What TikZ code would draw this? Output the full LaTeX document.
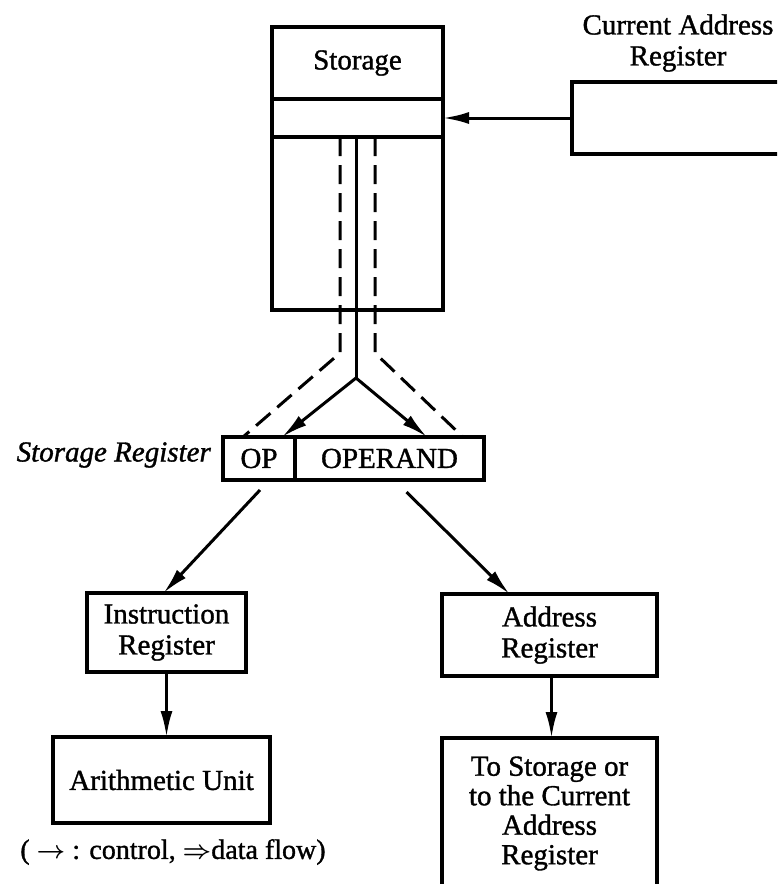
\documentclass[tikz,border=0pt]{standalone}
\usepackage{fontspec}
\setmainfont{Liberation Serif}[RawFeature={embolden=1.2}]
\usetikzlibrary{arrows.meta,calc}

\begin{document}
\begin{tikzpicture}[x=1pt,y=-1pt,
  txt/.style={font=\fontsize{29}{31}\selectfont, align=center, inner sep=0pt},
  box/.style={txt, draw, line width=3.2pt, rectangle, outer sep=0pt},
  ctrl/.style={line width=3pt, -{Latex[length=26pt,width=12pt]}},
  dflow/.style={line width=3pt, dash pattern=on 19pt off 9pt},
  plain/.style={line width=3pt},
]
\useasboundingbox (0,0) rectangle (777,884);
\clip (0,0) rectangle (777,884);

% storage with its address cell
\node[box, minimum width=171pt, minimum height=72pt]  (stop)  at (357.5,63)    {Storage};
\node[box, minimum width=171pt, minimum height=38pt]  (cell)  at (357.5,118)   {};
\node[box, minimum width=171pt, minimum height=173pt] (sbody) at (357.5,223.5) {};

% current address register
\node[box, minimum width=240pt, minimum height=72pt] (car) at (692,118) {};
\node[txt] (carlabel) at (678,43) {Current Address\\Register};
\draw[ctrl] (car.west) -- (cell.east);

% storage register
\node[box, minimum width=72pt,  minimum height=43pt] (op)      at (259,458.5)   {OP};
\node[box, minimum width=189pt, minimum height=43pt] (operand) at (389.5,458.5) {OPERAND};
\node[txt, font=\fontsize{29}{31}\selectfont\itshape, anchor=east] (srlabel) at (211,455) {Storage Register};

% read-out lines from storage to the storage register
\coordinate (bendL) at (340,353);
\coordinate (bendR) at (375,353);
\coordinate (fork)  at (356,378);
\draw[dflow] (cell.south -| bendL) -- (bendL) -- ($(op.north west)+(20,0)$);
\draw[dflow] (cell.south -| bendR) -- (bendR) -- ($(operand.north east)+(-21,0)$);
\draw[plain] (cell.south -| fork) -- (fork);
\draw[ctrl] (fork) -- ($(op.north east)+(-13,0)$);
\draw[ctrl] (fork) -- ($(operand.north)+(37.5,0)$);

% lower units
\node[box, minimum width=159pt, minimum height=79pt]  (instr) at (166.5,632.5) {Instruction\\Register};
\node[box, minimum width=217pt, minimum height=86pt]  (arith) at (161.5,780)   {Arithmetic Unit};
\node[box, minimum width=215pt, minimum height=82pt]  (addr)  at (549.5,635)   {Address\\Register};
\node[box, minimum width=215pt, minimum height=151pt, font=\fontsize{29}{29.5}\selectfont] (tost) at (549.5,813.5)
  {To Storage or\\to the Current\\Address\\Register};

\draw[ctrl] ($(op.south)+(1,10)$) -- ($(instr.north)+(-3,0)$);
\draw[ctrl] ($(operand.south)+(17,12)$) -- ($(addr.north)+(-40,0)$);
\draw[ctrl] (instr.south) -- (instr.south |- arith.north);
\draw[ctrl] ($(addr.south)+(2,0)$) -- ($(addr.south |- tost.north)+(2,0)$);

% legend
\node[txt, font=\fontsize{28}{30}\selectfont\boldmath] (legend) at (173,852) {( $\rightarrow$ : control, $\Rightarrow$data flow)};
\end{tikzpicture}
\end{document}
